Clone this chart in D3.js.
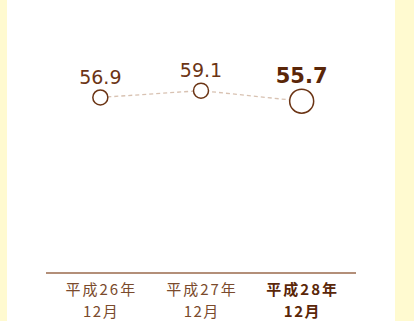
<!DOCTYPE html>
<html><head><meta charset="utf-8">
<script src="https://cdn.jsdelivr.net/npm/d3@7"></script>
<style>html,body{margin:0;padding:0;background:#fffad0;}svg{display:block;}</style>
</head><body>
<svg id="c" width="414" height="321"></svg>
<script>
const categoriesLine1 = ["平成26年", "平成27年", "平成28年"];
const categoriesLine2 = ["12月", "12月", "12月"];
const values = [56.9, 59.1, 55.7];
const highlight = [false, false, true];

const svg = d3.select("#c");
svg.append("rect").attr("x",0).attr("y",0).attr("width",414).attr("height",321).attr("fill","#fffad0");
svg.append("rect").attr("x",7).attr("y",0).attr("width",388).attr("height",321).attr("fill","#ffffff");

const x = d3.scalePoint().domain(d3.range(values.length)).range([50, 352]).padding(0.5);
const y = d3.scaleLinear().domain([0, 70]).range([273, 57]);

const brown = "#6b3414";
const line = d3.line().x((d,i)=>x(i)).y(d=>y(d));
svg.append("path").datum(values).attr("d", line).attr("fill","none")
  .attr("stroke","#d8c2b2").attr("stroke-width",1.3).attr("stroke-dasharray","4,3");

const r = i => highlight[i] ? 12 : 7.5;
svg.selectAll("circle.pt").data(values).join("circle").attr("class","pt")
  .attr("cx",(d,i)=>x(i)).attr("cy",d=>y(d)).attr("r",(d,i)=>r(i))
  .attr("fill","#fff").attr("stroke",brown).attr("stroke-width",1.5);

svg.selectAll("text.val").data(values).join("text").attr("class","val")
  .attr("x",(d,i)=>x(i)).attr("y",(d,i)=>y(d)-r(i)-6)
  .attr("text-anchor","middle")
  .attr("font-family","'DejaVu Sans', sans-serif")
  .attr("font-size",(d,i)=>highlight[i]?21:19)
  .attr("font-weight",(d,i)=>highlight[i]?"bold":"normal")
  .attr("fill",(d,i)=>highlight[i]?"#5a2608":"#6b3414")
  .text(d=>d.toFixed(1));

// axis
const axisG = svg.append("g").attr("transform","translate(0,273)");
axisG.call(d3.axisBottom(x).tickSize(0).tickFormat(""));
axisG.select(".domain").attr("d","M46,0H356").attr("stroke","#9a6a4c").attr("stroke-width",1.6);

const lab = svg.selectAll("g.lab").data(values).join("g").attr("class","lab")
  .attr("font-family","'Noto Sans CJK JP', sans-serif").attr("font-size",15)
  .attr("text-anchor","middle")
  .attr("font-weight",(d,i)=>highlight[i]?"bold":"normal")
  .attr("fill",(d,i)=>highlight[i]?"#5a2608":"#7a4a2c");
lab.append("text").attr("x",(d,i)=>x(i)+1).attr("y",295).attr("letter-spacing",2).text((d,i)=>categoriesLine1[i]);
lab.append("text").attr("x",(d,i)=>x(i)+0.75).attr("y",317).attr("letter-spacing",1.5).text((d,i)=>categoriesLine2[i]);
</script>
</body></html>
